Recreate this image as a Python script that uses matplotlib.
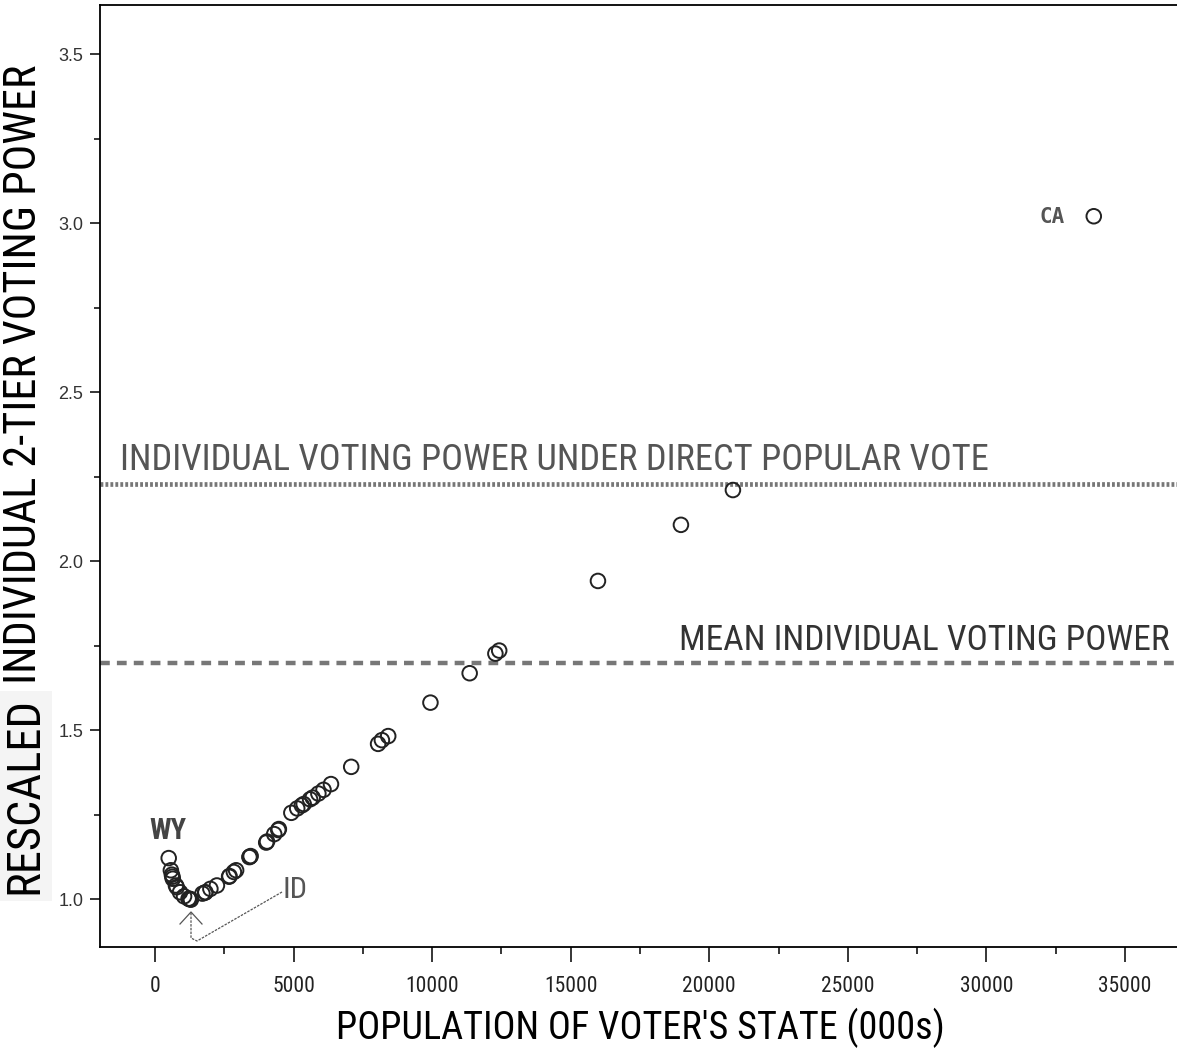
import matplotlib
matplotlib.use("Agg")
import matplotlib.pyplot as plt
from matplotlib import font_manager
from matplotlib.ticker import MultipleLocator


STATES = [
    "CA", "TX", "NY", "FL", "IL", "PA", "OH", "MI", "NJ", "GA", "NC",
    "VA", "MA", "IN", "WA", "TN", "MO", "WI", "MD", "AZ", "MN", "LA",
    "AL", "CO", "KY", "SC", "OK", "OR", "CT", "IA", "MS", "KS", "AR",
    "UT", "NV", "NM", "WV", "NE", "ID", "ME", "NH", "HI", "RI", "MT",
    "DE", "SD", "ND", "AK", "VT", "DC", "WY",
]
POPULATION = [
    33872, 20852, 18976, 15982, 12419, 12281, 11353, 9938, 8414, 8186, 8049,
    7079, 6349, 6080, 5894, 5689, 5595, 5364, 5296, 5131, 4919, 4469,
    4447, 4301, 4042, 4012, 3451, 3421, 3406, 2926, 2845, 2688, 2673,
    2233, 1998, 1819, 1808, 1711, 1294, 1275, 1236, 1212, 1048, 902,
    784, 755, 642, 627, 609, 572, 494,
]
VOTING_POWER = [
    3.020, 2.210, 2.107, 1.941, 1.735, 1.726, 1.668, 1.581, 1.482, 1.470, 1.459,
    1.391, 1.340, 1.323, 1.312, 1.300, 1.295, 1.281, 1.277, 1.268, 1.255, 1.207,
    1.204, 1.192, 1.170, 1.167, 1.127, 1.125, 1.124, 1.085, 1.080, 1.068, 1.066,
    1.040, 1.030, 1.020, 1.019, 1.016, 0.998, 1.000, 1.000, 1.001, 1.008, 1.020,
    1.035, 1.040, 1.060, 1.066, 1.072, 1.085, 1.121,
]

DIRECT_VOTE_POWER = 2.228
MEAN_POWER = 1.698

X_LIMITS = (-1985, 36875)
Y_LIMITS = (0.858, 3.645)

W, H = 1177, 1050


def pick_narrow_font():
    # the reference uses a narrow sans; take one if the machine has it
    fonts = font_manager.fontManager.ttflist
    names = {f.name for f in fonts}
    for name in ["Liberation Sans Narrow", "Arial Narrow", "Roboto Condensed",
                 "Open Sans Condensed", "Noto Sans Condensed",
                 "DejaVu Sans Condensed"]:
        if name in names:
            return {"family": name, "fontstretch": "normal"}
    for f in fonts:
        if f.stretch in ("condensed", "semi-condensed", "extra-condensed") \
                and f.style == "normal" and f.weight in (400, "normal", "regular"):
            return {"family": f.name, "fontstretch": f.stretch}
    return {"family": "Liberation Sans", "fontstretch": "normal"}


NARROW = pick_narrow_font()
REGULAR = "Liberation Sans"


def px_to_data(px, py):
    # pixel position in the picture -> data coordinates
    x = X_LIMITS[0] + (px - 100) / (W - 100) * (X_LIMITS[1] - X_LIMITS[0])
    y = Y_LIMITS[0] + (947 - py) / (947 - 5) * (Y_LIMITS[1] - Y_LIMITS[0])
    return x, y


def fit_text(fig, text, target_px, vertical=False):
    # scale the font so the text spans the same length as in the reference
    renderer = fig.canvas.get_renderer()
    bb = text.get_window_extent(renderer)
    size = bb.height if vertical else bb.width
    text.set_fontsize(text.get_fontsize() * target_px / size)


def draw_chart():
    fig = plt.figure(figsize=(W / 100, H / 100), dpi=100)
    ax = fig.add_axes([100 / W, 1 - 947 / H, (W - 100) / W, (947 - 5) / H])

    ax.set_xlim(*X_LIMITS)
    ax.set_ylim(*Y_LIMITS)

    # reference lines
    ax.axhline(
        DIRECT_VOTE_POWER,
        color="#777777",
        linewidth=3.4,
        linestyle=(0, (0.6, 0.45)),
        zorder=1
    )
    ax.axhline(
        MEAN_POWER,
        color="#777777",
        linewidth=3.2,
        linestyle=(0, (2.2, 1.6)),
        zorder=1
    )

    ax.scatter(
        POPULATION,
        VOTING_POWER,
        s=110,
        facecolors="none",
        edgecolors="#222222",
        linewidths=1.4,
        zorder=3
    )

    fitted = []

    # line labels
    tx, ty = px_to_data(120, 460)
    t = ax.text(
        tx, ty,
        "INDIVIDUAL VOTING POWER UNDER DIRECT POPULAR VOTE",
        **NARROW,
        fontsize=25,
        color="#555555",
        ha="left",
        va="center"
    )
    fitted.append((t, 870, False))
    tx, ty = px_to_data(1170, 640)
    t = ax.text(
        tx, ty,
        "MEAN INDIVIDUAL VOTING POWER",
        **NARROW,
        fontsize=25,
        color="#333333",
        ha="right",
        va="center"
    )
    fitted.append((t, 490, False))

    # state labels
    tx, ty = px_to_data(1052, 217)
    ax.text(tx, ty, "CA", family="DejaVu Sans Mono", fontweight="bold",
            fontsize=15, color="#555555", ha="center", va="center")
    tx, ty = px_to_data(168, 831)
    t = ax.text(tx, ty, "WY", **NARROW, fontweight="bold",
                fontsize=16, color="#444444", ha="center", va="center")
    fitted.append((t, 37, False))
    tx, ty = px_to_data(295, 890)
    t = ax.text(tx, ty, "ID", **NARROW,
                fontsize=20, color="#555555", ha="center", va="center")
    fitted.append((t, 25, False))

    # leader from ID label to the ID point
    path = [px_to_data(px, py) for px, py in
            [(282, 892), (197, 941), (191, 938), (191, 912)]]
    ax.plot(
        [p[0] for p in path],
        [p[1] for p in path],
        color="#555555",
        linewidth=0.9,
        linestyle=(0, (2, 1)),
        zorder=2
    )
    head = [px_to_data(px, py) for px, py in [(180, 924), (191, 912), (202, 924)]]
    ax.plot(
        [p[0] for p in head],
        [p[1] for p in head],
        color="#555555",
        linewidth=0.9,
        zorder=2
    )

    # axes styling
    for side in ["left", "bottom", "top"]:
        ax.spines[side].set_linewidth(1.3)
        ax.spines[side].set_color("black")
    ax.spines["right"].set_visible(False)

    ax.xaxis.set_major_locator(MultipleLocator(5000))
    ax.xaxis.set_minor_locator(MultipleLocator(2500))
    ax.yaxis.set_major_locator(MultipleLocator(0.5))
    ax.yaxis.set_minor_locator(MultipleLocator(0.25))

    ax.tick_params(axis="x", which="major", length=11, width=1.1, pad=10,
                   direction="out")
    ax.tick_params(axis="x", which="minor", length=5, width=1.1,
                   direction="out")
    ax.tick_params(axis="y", which="major", length=7, width=1.1, pad=5,
                   direction="out")
    ax.tick_params(axis="y", which="minor", length=4, width=1.1,
                   direction="out")

    ax.set_yticks(ax.get_yticks())
    ax.set_yticklabels([f"{v:.1f}" for v in ax.get_yticks()])
    for label in ax.get_xticklabels():
        label.update(NARROW)
        label.set_fontsize(15.5)
        label.set_color("#222222")
    for label in ax.get_yticklabels():
        label.set_family(REGULAR)
        label.set_fontsize(13)
        label.set_color("#333333")
    ax.set_ylim(*Y_LIMITS)

    # axis titles
    t = fig.text(
        640 / W, 1 - 1028 / H,
        "POPULATION OF VOTER'S STATE (000s)",
        **NARROW,
        fontsize=25,
        color="black",
        ha="center",
        va="center"
    )
    fitted.append((t, 610, False))
    t = fig.text(
        24 / W, 1 - 796 / H,
        "RESCALED",
        **NARROW,
        fontsize=23,
        color="black",
        rotation=90,
        ha="center",
        va="center",
        bbox=dict(facecolor="#f4f4f4", edgecolor="none", pad=3)
    )
    fitted.append((t, 198, True))
    t = fig.text(
        24 / W, 1 - 374 / H,
        "INDIVIDUAL 2-TIER VOTING POWER",
        **NARROW,
        fontsize=23,
        color="black",
        rotation=90,
        ha="center",
        va="center"
    )
    fitted.append((t, 622, True))

    for t, target_px, vertical in fitted:
        fit_text(fig, t, target_px, vertical)

    fig.savefig("out.png", dpi=100)
    plt.close(fig)


def main():
    draw_chart()


if __name__ == "__main__":
    main()
